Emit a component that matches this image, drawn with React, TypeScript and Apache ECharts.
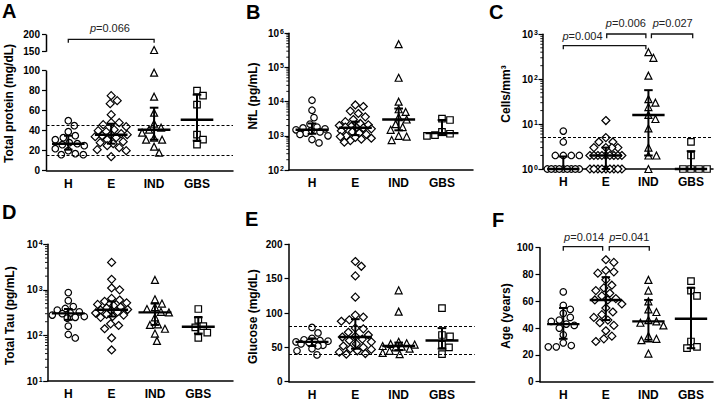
import React, { useEffect, useRef } from 'react';
import * as echarts from 'echarts';

const FONT = '"Liberation Sans", Arial, Helvetica, sans-serif';

const groups = ['H', 'E', 'IND', 'GBS'];
const symbols = ['circle', 'diamond', 'triangle', 'rect'];
const symbolSizes = [6.5, 8, 7, 6.5];

// A: Total protein (mg/dL)
const proteinH = [50, 45, 39, 35, 33, 31, 28, 27, 26, 25, 22, 20, 17, 16, 16];
const proteinE = [75, 70, 67, 56, 48, 48, 46, 44, 41, 40, 39, 37, 36, 36, 35, 34, 33, 31, 29, 28, 27, 25, 23, 21, 20, 14];
const proteinIND = [155, 98, 74, 58, 47, 43, 41, 38, 33, 31, 31, 24, 18];
const proteinGBS = [80, 75, 66, 36, 31, 26];
const proteinMedian = [27, 36, 41, 51];
const proteinQ1 = [21, 27, 31, 30];
const proteinQ3 = [35, 47, 63, 76];
const proteinTicks = [0, 20, 40, 60, 80, 100, 150, 200];
const proteinRef = [15, 45];

// B: NfL (pg/mL)
const nflH = [11000, 5600, 3400, 2200, 1800, 1700, 1600, 1500, 1400, 1300, 1200, 1100, 1000, 780, 620];
const nflE = [8000, 7200, 5300, 4500, 3600, 3000, 2600, 2300, 2100, 2000, 1900, 1800, 1750, 1700, 1600, 1400, 1300, 1200, 1100, 1000, 950, 900, 850, 800, 720, 650];
const nflIND = [480000, 50000, 10000, 6000, 5000, 3500, 3000, 2200, 1800, 1500, 1000, 950, 750];
const nflGBS = [3200, 2900, 1300, 1150, 1050, 1000];
const nflMedian = [1500, 1720, 3000, 1200];
const nflQ1 = [1150, 1050, 1450, 1050];
const nflQ3 = [2300, 2600, 6300, 2900];

// C: Cells/mm3
const cellsH = [7, 4, 2, 2, 2, 2, 1, 1, 1, 1, 1, 1, 1, 1, 1];
const cellsE = [12, 5, 4, 4, 3, 3, 3, 3, 2, 2, 2, 2, 2, 2, 2, 2, 2, 1, 1, 1, 1, 1, 1, 1, 1, 1];
const cellsIND = [400, 300, 120, 36, 30, 24, 16, 13, 8, 3, 2, 2, 1];
const cellsGBS = [4, 2, 1, 1, 1, 1];
const cellsMedian = [1, 2, 16, 1];
const cellsQ1 = [1, 1, 2, 1];
const cellsQ3 = [1.9, 3, 57, 2.5];
const cellsRef = [5];

// D: Total Tau (pg/mL)
const tauH = [870, 580, 430, 390, 360, 330, 310, 300, 280, 260, 250, 240, 160, 105, 88];
const tauE = [4000, 1700, 1100, 1000, 650, 600, 560, 520, 480, 450, 420, 400, 370, 360, 350, 330, 310, 290, 280, 260, 250, 180, 165, 140, 88, 48];
const tauIND = [1650, 620, 500, 420, 380, 330, 320, 250, 175, 170, 140, 110, 76];
const tauGBS = [380, 220, 160, 150, 115, 88];
const tauMedian = [305, 365, 320, 155];
const tauQ1 = [220, 260, 170, 110];
const tauQ3 = [380, 560, 500, 250];

// E: Glucose (mg/dL)
const glucoseH = [79, 71, 63, 61, 60, 59, 58, 58, 57, 55, 53, 52, 48, 45, 39];
const glucoseE = [175, 168, 154, 123, 97, 94, 90, 88, 78, 77, 72, 68, 66, 65, 62, 60, 58, 55, 52, 50, 48, 47, 45, 43, 41, 40];
const glucoseIND = [133, 102, 58, 56, 55, 54, 52, 51, 50, 48, 45, 42, 40];
const glucoseGBS = [107, 68, 66, 54, 50, 40];
const glucoseMedian = [58, 65, 52, 60];
const glucoseQ1 = [52, 48, 46, 48];
const glucoseQ3 = [63, 91, 57, 78];
const glucoseRef = [40, 80];

// F: Age (years)
const ageH = [67, 57, 54, 51, 48, 46, 45, 43, 42, 40, 35, 29, 27, 26, 26];
const ageE = [91, 89, 83, 82, 81, 76, 72, 70, 68, 66, 64, 62, 61, 61, 58, 55, 52, 50, 48, 46, 44, 42, 38, 34, 32, 30];
const ageIND = [76, 68, 60, 54, 52, 46, 45, 44, 42, 34, 32, 31, 21];
const ageGBS = [75, 68, 64, 30, 26, 25];
const ageMedian = [43, 61, 45, 47];
const ageQ1 = [32, 46, 30, 25];
const ageQ3 = [55, 78, 61, 70];

// significance brackets: group positions (from,to), bracket/leg levels in data units, text position
type Bracket = { from: number; to: number; top: number; legL: number; legR: number; tx: number; ty: number; p: string };
const proteinBrackets: Bracket[] = [
  { from: 0, to: 2, top: 186, legL: 176, legR: 176, tx: 0.97, ty: 220, p: '0.066' },
];
const cellsBrackets: Bracket[] = [
  { from: 0, to: 1.94, top: 557, legL: 464, legR: 464, tx: 0.45, ty: 931, p: '0.004' },
  { from: 1.02, to: 1.94, top: 1016, legL: 815, legR: 815, tx: 1.47, ty: 1758, p: '0.006' },
  { from: 2.07, to: 3.04, top: 1016, legL: 815, legR: 815, tx: 2.57, ty: 1758, p: '0.027' },
];
const ageBrackets: Bracket[] = [
  { from: 0, to: 0.925, top: 100.75, legL: 97.8, legR: 97.8, tx: 0.49, ty: 108.2, p: '0.014' },
  { from: 1.08, to: 2.02, top: 100.75, legL: 97.8, legR: 97.8, tx: 1.55, ty: 108.2, p: '0.041' },
];

// broken axis for panel A
const brokenFwd = (v: number) => (v <= 100 ? v : v <= 150 ? 100 + (v - 100) * 0.38 : 119 + (v - 150) * 0.34);
const brokenInv = (t: number) => (t <= 100 ? t : t <= 119 ? 100 + (t - 100) / 0.38 : 150 + (t - 119) / 0.34);
const proteinAxisSegments = [[0, 100], [150, 200]];

type Panel = {
  letter: string; title: string; values: number[][]; median: number[]; q1: number[]; q3: number[];
  refLines: number[]; brackets: Bracket[]; scale: 'linear' | 'log' | 'broken';
  yMin: number; yMax: number; interval?: number;
  box: { left: number; top: number; right: number; bottom: number };
  xRange: [number, number]; letterPos: [number, number]; titlePos: [number, number];
};

const panels: Panel[] = [
  {
    letter: 'A', title: 'Total protein (mg/dL)', values: [proteinH, proteinE, proteinIND, proteinGBS],
    median: proteinMedian, q1: proteinQ1, q3: proteinQ3, refLines: proteinRef, brackets: proteinBrackets,
    scale: 'broken', yMin: 0, yMax: 200,
    box: { left: 46.5, top: 34.7, right: 233, bottom: 170.7 }, xRange: [-0.508, 3.839],
    letterPos: [2, 1.4], titlePos: [8.5, 103.5],
  },
  {
    letter: 'B', title: 'NfL (pg/mL)', values: [nflH, nflE, nflIND, nflGBS],
    median: nflMedian, q1: nflQ1, q3: nflQ3, refLines: [], brackets: [],
    scale: 'log', yMin: 100, yMax: 1e6,
    box: { left: 289, top: 33.3, right: 473, bottom: 170 }, xRange: [-0.531, 3.716],
    letterPos: [246, 2.4], titlePos: [253, 96],
  },
  {
    letter: 'C', title: 'Cells/mm³', values: [cellsH, cellsE, cellsIND, cellsGBS],
    median: cellsMedian, q1: cellsQ1, q3: cellsQ3, refLines: cellsRef, brackets: cellsBrackets,
    scale: 'log', yMin: 1, yMax: 1000,
    box: { left: 543, top: 34.3, right: 713, bottom: 169 }, xRange: [-0.477, 3.517],
    letterPos: [489, 2.4], titlePos: [506, 94],
  },
  {
    letter: 'D', title: 'Total Tau (pg/mL)', values: [tauH, tauE, tauIND, tauGBS],
    median: tauMedian, q1: tauQ1, q3: tauQ3, refLines: [], brackets: [],
    scale: 'log', yMin: 10, yMax: 10000,
    box: { left: 47.7, top: 244.3, right: 233, bottom: 381 }, xRange: [-0.475, 3.801],
    letterPos: [2, 202.4], titlePos: [10, 315.8],
  },
  {
    letter: 'E', title: 'Glucose (mg/dL)', values: [glucoseH, glucoseE, glucoseIND, glucoseGBS],
    median: glucoseMedian, q1: glucoseQ1, q3: glucoseQ3, refLines: glucoseRef, brackets: [],
    scale: 'linear', yMin: 0, yMax: 200, interval: 50,
    box: { left: 289, top: 244.3, right: 474.7, bottom: 381.7 }, xRange: [-0.531, 3.755],
    letterPos: [245, 209.4], titlePos: [253, 316.7],
  },
  {
    letter: 'F', title: 'Age (years)', values: [ageH, ageE, ageIND, ageGBS],
    median: ageMedian, q1: ageQ1, q3: ageQ3, refLines: [], brackets: ageBrackets,
    scale: 'linear', yMin: 0, yMax: 100, interval: 20,
    box: { left: 540, top: 247.7, right: 713, bottom: 381.7 }, xRange: [-0.547, 3.517],
    letterPos: [492, 210.4], titlePos: [506, 316],
  },
];

// simple beeswarm: horizontal pixel offsets so that markers don't overlap (bounded width)
function swarm(ys: number[], D: number, W: number): number[] {
  const order = ys.map((_, i) => i).sort((a, b) => ys[a] - ys[b]);
  const placed: [number, number][] = [];
  const out = new Array(ys.length).fill(0);
  const cands: number[] = [0];
  for (let d = 1; d <= W; d++) cands.push(d, -d);
  for (const i of order) {
    const y = ys[i];
    let best = 0;
    let bestScore = -1;
    for (const c of cands) {
      let mind = Infinity;
      for (const [px, py] of placed) {
        const dd = Math.hypot(px - c, py - y);
        if (dd < mind) mind = dd;
      }
      if (mind >= D) { best = c; break; }
      if (mind > bestScore + 0.3) { bestScore = mind; best = c; }
    }
    placed.push([best, y]);
    out[i] = best;
  }
  return out;
}

function buildOption() {
  const grid: any[] = [];
  const xAxis: any[] = [];
  const yAxis: any[] = [];
  const series: any[] = [];
  const graphic: any[] = [];

  panels.forEach((P, i) => {
    const { left, top, right, bottom } = P.box;
    const width = right - left;
    const height = bottom - top;
    grid.push({ left, top, width, height });
    const tf = P.scale === 'broken' ? brokenFwd : (v: number) => v;
    const x0 = P.xRange[0];

    xAxis.push({
      type: 'value', gridIndex: i, min: P.xRange[0], max: P.xRange[1],
      axisLine: { show: true, onZero: false, lineStyle: { color: '#000', width: 1.5 } },
      axisTick: { show: false }, splitLine: { show: false },
      axisLabel: {
        customValues: [0, 1, 2, 3], formatter: (v: number) => groups[Math.round(v)],
        fontFamily: FONT, fontWeight: 'bold', fontSize: 12, color: '#000', margin: 7,
      },
    });

    const tickStyle = { color: '#000', width: 1.2 };
    if (P.scale === 'log') {
      yAxis.push({
        type: 'log', logBase: 10, gridIndex: i, min: P.yMin, max: P.yMax,
        axisLine: { show: true, onZero: false, lineStyle: { color: '#000', width: 1.5 } },
        axisTick: { show: true, length: 4.5, lineStyle: tickStyle },
        splitLine: { show: false }, minorTick: { show: false },
        axisLabel: {
          margin: 5,
          formatter: (v: number) => `{b|10}{s|${Math.round(Math.log10(v))}}`,
          rich: {
            b: { fontSize: 10, fontWeight: 'bold', fontFamily: FONT, color: '#000' },
            s: { fontSize: 7, fontWeight: 'bold', fontFamily: FONT, color: '#000', verticalAlign: 'top', padding: [0, 0, 0, 1] },
          },
        },
      });
    } else if (P.scale === 'broken') {
      const tv = proteinTicks.map(brokenFwd);
      yAxis.push({
        type: 'value', gridIndex: i, min: tf(P.yMin), max: tf(P.yMax),
        axisLine: { show: false, onZero: false },
        axisTick: { show: true, length: 4.5, lineStyle: tickStyle, customValues: tv },
        splitLine: { show: false },
        axisLabel: {
          customValues: tv, formatter: (v: number) => String(Math.round(brokenInv(v))),
          fontFamily: FONT, fontWeight: 'bold', fontSize: 10, color: '#000', margin: 6.5,
        },
      });
    } else {
      yAxis.push({
        type: 'value', gridIndex: i, min: P.yMin, max: P.yMax, interval: P.interval,
        axisLine: { show: true, onZero: false, lineStyle: { color: '#000', width: 1.5 } },
        axisTick: { show: true, length: 4.5, lineStyle: tickStyle },
        splitLine: { show: false },
        axisLabel: { fontFamily: FONT, fontWeight: 'bold', fontSize: 10, color: '#000', margin: 6.5 },
      });
    }

    // pixel mapping used only for spreading overlapping points horizontally
    const pxPerX = width / (P.xRange[1] - P.xRange[0]);
    const yPx = (v: number) =>
      P.scale === 'log'
        ? bottom - ((Math.log10(v) - Math.log10(P.yMin)) / (Math.log10(P.yMax) - Math.log10(P.yMin))) * height
        : bottom - ((tf(v) - tf(P.yMin)) / (tf(P.yMax) - tf(P.yMin))) * height;

    P.values.forEach((vals, g) => {
      const offs = swarm(vals.map(yPx), 7.5, 16);
      series.push({
        type: 'scatter', xAxisIndex: i, yAxisIndex: i, z: 2, silent: true,
        symbol: symbols[g], symbolSize: symbolSizes[g],
        itemStyle: { color: '#fff', borderColor: '#000', borderWidth: 1.2, opacity: 1 },
        data: vals.map((v, k) => [g + offs[k] / pxPerX, tf(v)]),
        markLine: g === 0 && P.refLines.length
          ? {
              silent: true, symbol: 'none', label: { show: false }, animation: false,
              lineStyle: { type: [3, 2], color: '#000', width: 1.1 },
              data: P.refLines.map((r) => ({ yAxis: tf(r) })),
            }
          : undefined,
      });
    });

    // median with interquartile range
    series.push({
      type: 'custom', xAxisIndex: i, yAxisIndex: i, z: 5, silent: true,
      data: groups.map((_, g) => [g, tf(P.median[g]), tf(P.q1[g]), tf(P.q3[g])]),
      renderItem: (_params: any, api: any) => {
        const x = api.value(0);
        const m = api.coord([x, api.value(1)]);
        const lo = api.coord([x, api.value(2)]);
        const hi = api.coord([x, api.value(3)]);
        const hw = api.coord([x + 0.38, api.value(1)])[0] - m[0];
        const cw = api.coord([x + 0.1, api.value(1)])[0] - m[0];
        const st = (w: number) => ({ stroke: '#000', lineWidth: w });
        return {
          type: 'group',
          children: [
            { type: 'line', shape: { x1: m[0] - hw, y1: m[1], x2: m[0] + hw, y2: m[1] }, style: st(2.4) },
            { type: 'line', shape: { x1: m[0], y1: lo[1], x2: m[0], y2: hi[1] }, style: st(2) },
            { type: 'line', shape: { x1: m[0] - cw, y1: lo[1], x2: m[0] + cw, y2: lo[1] }, style: st(2) },
            { type: 'line', shape: { x1: m[0] - cw, y1: hi[1], x2: m[0] + cw, y2: hi[1] }, style: st(2) },
          ],
        };
      },
    });

    // broken axis line segments (panel A)
    if (P.scale === 'broken') {
      series.push({
        type: 'custom', xAxisIndex: i, yAxisIndex: i, z: 6, silent: true, clip: false,
        encode: { x: 0, y: [1, 2] },
        data: proteinAxisSegments.map(([a, b]) => [x0, tf(a), tf(b)]),
        renderItem: (_params: any, api: any) => {
          const a = api.coord([api.value(0), api.value(1)]);
          const b = api.coord([api.value(0), api.value(2)]);
          return { type: 'line', shape: { x1: a[0], y1: a[1], x2: b[0], y2: b[1] }, style: { stroke: '#000', lineWidth: 1.5 } };
        },
      });
    }

    // minor ticks on log axes
    if (P.scale === 'log') {
      const minors: number[][] = [];
      for (let e = Math.round(Math.log10(P.yMin)); e < Math.round(Math.log10(P.yMax)); e++) {
        for (let k = 2; k <= 9; k++) minors.push([x0, k * Math.pow(10, e)]);
      }
      series.push({
        type: 'custom', xAxisIndex: i, yAxisIndex: i, z: 6, silent: true, clip: false,
        encode: { x: 0, y: 1 },
        data: minors,
        renderItem: (_params: any, api: any) => {
          const p = api.coord([api.value(0), api.value(1)]);
          return { type: 'line', shape: { x1: p[0] - 2.7, y1: p[1], x2: p[0], y2: p[1] }, style: { stroke: '#000', lineWidth: 0.9 } };
        },
      });
    }

    // significance brackets
    if (P.brackets.length) {
      series.push({
        type: 'custom', xAxisIndex: i, yAxisIndex: i, z: 6, silent: true, clip: false,
        encode: { x: [0, 1, 5], y: [2, 3, 4, 6] },
        data: P.brackets.map((b) => [b.from, b.to, tf(b.top), tf(b.legL), tf(b.legR), b.tx, tf(b.ty)]),
        renderItem: (params: any, api: any) => {
          const b = P.brackets[params.dataIndex];
          const l0 = api.coord([api.value(0), api.value(3)]);
          const l1 = api.coord([api.value(0), api.value(2)]);
          const r1 = api.coord([api.value(1), api.value(2)]);
          const r0 = api.coord([api.value(1), api.value(4)]);
          const t = api.coord([api.value(5), api.value(6)]);
          return {
            type: 'group',
            children: [
              {
                type: 'polyline',
                shape: { points: [l0, l1, r1, r0] },
                style: { stroke: '#111', lineWidth: 1.3, fill: 'none' },
              },
              {
                type: 'text', x: t[0], y: t[1],
                style: {
                  text: `{i|p}{n|=${b.p}}`, align: 'center', verticalAlign: 'middle',
                  fontSize: 11, fontFamily: FONT, fill: '#222',
                  rich: {
                    i: { fontSize: 11, fontFamily: FONT, fontStyle: 'italic', fill: '#222', color: '#222' },
                    n: { fontSize: 11, fontFamily: FONT, fill: '#222', color: '#222' },
                  },
                },
              },
            ],
          };
        },
      });
    }

    graphic.push({
      type: 'text', x: P.letterPos[0], y: P.letterPos[1], silent: true,
      style: { text: P.letter, fontSize: 20, fontWeight: 'bold', fontFamily: FONT, fill: '#000', align: 'left', verticalAlign: 'top' },
    });
    graphic.push({
      type: 'text', x: P.titlePos[0], y: P.titlePos[1], rotation: Math.PI / 2, silent: true,
      style: { text: P.title, fontSize: 12, fontWeight: 'bold', fontFamily: FONT, fill: '#000', align: 'center', verticalAlign: 'middle' },
    });
  });

  return {
    animation: false,
    backgroundColor: '#fff',
    textStyle: { fontFamily: FONT },
    grid, xAxis, yAxis, series, graphic,
  };
}

export default function App() {
  const ref = useRef<HTMLDivElement>(null);
  useEffect(() => {
    if (!ref.current) return;
    const chart = echarts.init(ref.current, undefined, { renderer: 'svg' });
    chart.setOption(buildOption() as any);
    return () => chart.dispose();
  }, []);
  return <div ref={ref} style={{ width: 716, height: 401, position: 'absolute', left: 0, top: 0 }} />;
}
